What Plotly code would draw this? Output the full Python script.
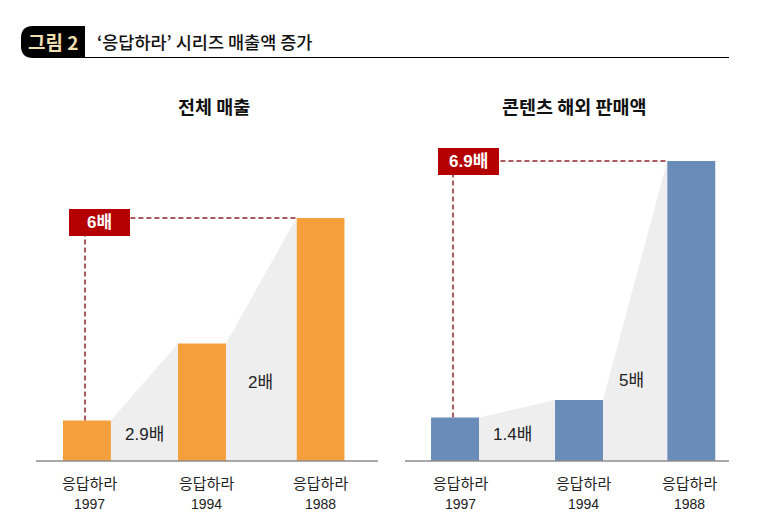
import plotly.graph_objects as go

# 페이지 body 여백 8px 만큼 줄여서 그림
W, H = 751, 510
PAGE_MARGIN = 8

# 값은 그림에서 읽은 추정치 (1997 = 1 기준 배수)
names = ['응답하라', '응답하라', '응답하라']
years = ['1997', '1994', '1988']
total_sales = [1.0, 2.9, 6.0]
overseas_sales = [1.0, 1.4, 6.9]
total_steps = ['2.9배', '2배']
overseas_steps = ['1.4배', '5배']
total_gain = '6배'
overseas_gain = '6.9배'

ORANGE = '#f59f3c'
BLUE = '#6a8cb8'
GREY = '#eeeeee'
RED = '#b50000'
DASH = '#ad585c'
FONT = 'Noto Sans CJK KR'
MIXED = 'Liberation Sans, Noto Sans CJK KR'

# 막대 슬롯 위치 (간격이 일정하지 않음), 라벨은 막대 중심에서 조금 어긋나 있음
total_slots = [0, 1, 2.03]
overseas_slots = [0, 1.05, 2.0]
total_label_slots = [0.026, 1.035, 2.03]
overseas_label_slots = [0.05, 1.085, 1.983]
bar_w = [0.417, 0.407]


def px_x(x):
    return (x - PAGE_MARGIN) / W


def px_y(y):
    return 1 - (y - PAGE_MARGIN) / H


fig = go.Figure()


def add_panel(slots, label_slots, values, color, width, xa, ya):
    # 막대 사이 회색 영역
    for i in range(2):
        fig.add_trace(go.Scatter(
            x=[slots[i] + width / 2, slots[i + 1] - width / 2],
            y=[values[i], values[i + 1]],
            mode='lines', line=dict(width=0), fill='tozeroy', fillcolor=GREY,
            hoverinfo='skip', showlegend=False, xaxis=xa, yaxis=ya))
    fig.add_trace(go.Bar(x=slots, y=values, width=width, marker=dict(color=color, line=dict(width=0)),
                         showlegend=False, xaxis=xa, yaxis=ya))
    # 점선
    lx = slots[0] - 0.017
    fig.add_trace(go.Scatter(x=[lx, lx, slots[2] - width / 2], y=[values[0], values[2], values[2]],
                             mode='lines', line=dict(color=DASH, width=2, dash='5px,3px'),
                             hoverinfo='skip', showlegend=False, xaxis=xa, yaxis=ya))
    # 막대 아래 이름과 연도
    for s, name, year in zip(label_slots, names, years):
        fig.add_annotation(xref=xa, yref='paper', x=s, y=px_y(482), text=name, showarrow=False,
                           xanchor='center', yanchor='middle', font=dict(family=FONT, size=15, color='#222222'))
        fig.add_annotation(xref=xa, yref='paper', x=s, y=px_y(504), text=year, showarrow=False,
                           xanchor='center', yanchor='middle', font=dict(family=MIXED, size=14, color='#222222'))


add_panel(total_slots, total_label_slots, total_sales, ORANGE, bar_w[0], 'x', 'y')
add_panel(overseas_slots, overseas_label_slots, overseas_sales, BLUE, bar_w[1], 'x2', 'y2')

fig.update_layout(
    width=W, height=H, margin=dict(l=0, r=0, t=0, b=0),
    paper_bgcolor='white', plot_bgcolor='white', barmode='overlay',
    font=dict(family=FONT),
    xaxis=dict(domain=[px_x(36), px_x(378)], range=[-0.443, 2.53], visible=False, showgrid=False, zeroline=False),
    yaxis=dict(domain=[px_y(461), px_y(130)], range=[0, 8.17], visible=False, showgrid=False, zeroline=False),
    xaxis2=dict(domain=[px_x(405), px_x(729)], range=[-0.424, 2.32], visible=False, showgrid=False, zeroline=False),
    yaxis2=dict(domain=[px_y(461), px_y(130)], range=[0, 7.61], visible=False, showgrid=False, zeroline=False,
                anchor='x2'),
)

# 기준선
for x0, x1 in [(36, 378), (405, 729)]:
    fig.add_shape(type='line', xref='paper', yref='paper', x0=px_x(x0), x1=px_x(x1), y0=px_y(461), y1=px_y(461),
                  line=dict(color='#8c8c8c', width=1.5))

# 헤더
fig.add_shape(type='line', xref='paper', yref='paper', x0=px_x(60), x1=px_x(729), y0=px_y(57.5), y1=px_y(57.5),
              line=dict(color='black', width=1.2))
x0, x1, y0, y1 = px_x(21), px_x(85), px_y(58), px_y(26)
rx, ry = 12 / W, 12 / H
fig.add_shape(type='path', xref='paper', yref='paper', line=dict(width=0), fillcolor='black',
              path=f'M {x1} {y1} L {x0 + rx} {y1} Q {x0} {y1} {x0} {y1 - ry} L {x0} {y0 + ry} '
                   f'Q {x0} {y0} {x0 + rx} {y0} L {x1} {y0} Z')


def text(x, y, s, size, color='#222222', bold=False, anchor='center', family=FONT):
    fig.add_annotation(xref='paper', yref='paper', x=px_x(x), y=px_y(y), text=f'<b>{s}</b>' if bold else s,
                       showarrow=False, xanchor=anchor, yanchor='middle',
                       font=dict(family=family, size=size, color=color))


text(53, 42, '그림 2', 19, '#f0dfb0', True)
text(95, 42, '‘응답하라’ 시리즈 매출액 증가', 17.5, '#111111', False, 'left', 'Noto Sans CJK KR Medium, ' + FONT)
text(214, 106, '전체 매출', 18.5, '#111111', True)
text(574, 106, '콘텐츠 해외 판매액', 18.5, '#111111', True)

text(144, 434, total_steps[0], 17, family=MIXED)
text(260, 382, total_steps[1], 17, family=MIXED)
text(513, 434, overseas_steps[0], 17, family=MIXED)
text(631, 380, overseas_steps[1], 17, family=MIXED)


def badge(x0, x1, y0, y1, s):
    fig.add_shape(type='rect', xref='paper', yref='paper', x0=px_x(x0), x1=px_x(x1), y0=px_y(y1), y1=px_y(y0),
                  fillcolor=RED, line=dict(width=0), layer='above')
    text((x0 + x1) / 2, (y0 + y1) / 2, s, 17, 'white', True, family=MIXED)


badge(69, 130, 209, 236, total_gain)
badge(438, 499, 148, 175, overseas_gain)

fig.write_html('out.html')
